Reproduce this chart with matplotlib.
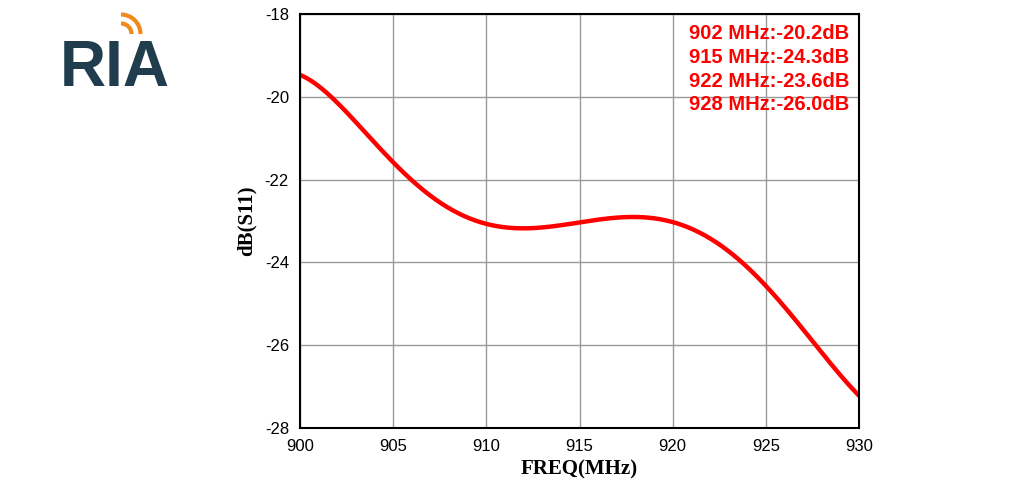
import numpy as np
import matplotlib.pyplot as plt
from matplotlib.patches import Arc

plt.rcParams['font.family'] = 'Liberation Sans'
plt.rcParams['axes.unicode_minus'] = False

# curve samples
FREQ = [900, 902, 905, 908, 910, 912, 915, 918, 920, 922, 925, 928, 930]
S11 = [-19.43, -20.25, -21.5, -22.6, -23.15, -23.27, -23.03, -22.8, -22.95, -23.55, -24.6, -26.1, -27.25]
MARKERS = ['902 MHz:-20.2dB', '915 MHz:-24.3dB', '922 MHz:-23.6dB', '928 MHz:-26.0dB']
XTICKS = [900, 905, 910, 915, 920, 925, 930]
YTICKS = [-28, -26, -24, -22, -20, -18]

fig = plt.figure(figsize=(10.24, 4.98), dpi=100)
ax = fig.add_axes([300/1024, 1-428/498, 559/1024, 414/498])

# smooth curve through the read points
xs = np.linspace(900, 930, 400)
coef = np.polyfit(FREQ, S11, 7)
ax.plot(xs, np.polyval(coef, xs), color='#ff0000', lw=3.2)

ax.set_xlim(900, 930)
ax.set_ylim(-28, -18)
ax.set_xticks(XTICKS)
ax.set_yticks(YTICKS)
ax.grid(True, color='#9a9a9a', lw=1)
for s in ax.spines.values():
    s.set_linewidth(1.5)
ax.tick_params(labelsize=12, direction='in', length=0, pad=8)
ax.set_xlabel('FREQ(MHz)', fontsize=15, fontweight='bold', family='Liberation Serif', labelpad=4)
ax.set_ylabel('dB(S11)', fontsize=15, fontweight='bold', family='Liberation Serif', labelpad=6)

for i, m in enumerate(MARKERS):
    ax.text(0.983, 0.975 - i*0.057, m, transform=ax.transAxes, ha='right', va='top',
            color='#ff0000', fontsize=14.5, fontweight='bold')

# logo
fig.text(60/1024, 1-86/498, 'RIA', fontsize=46, fontweight='bold', color='#1f3d4c')
la = fig.add_axes([115/1024, 1-40/498, 30/1024, 30/498])
la.set_xlim(0, 1); la.set_ylim(0, 1); la.axis('off')
for r in (0.35, 0.65):
    la.add_patch(Arc((0.2, 0.2), 2*r, 2*r, theta1=0, theta2=90, color='#f08a1c', lw=3))
fig.savefig('out.png')
